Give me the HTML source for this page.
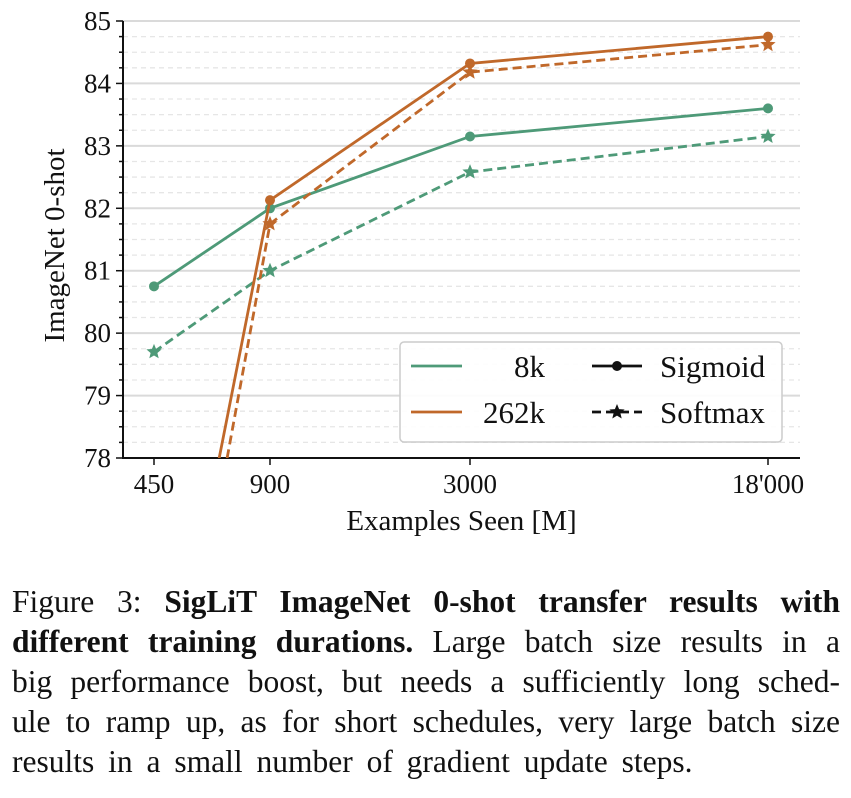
<!DOCTYPE html>
<html><head><meta charset="utf-8">
<style>
html,body{margin:0;background:#fff;width:851px;height:798px;overflow:hidden;font-family:"Liberation Serif",serif;}
svg text{font-family:"Liberation Serif",serif;fill:#111;}
#caption{position:absolute;left:12px;top:582px;width:828px;height:210px;overflow:hidden;font-size:31.5px;line-height:40px;color:#111;}
#caption div{text-align:justify;text-align-last:justify;white-space:nowrap;height:40px;}
#caption div.last{text-align-last:left;word-spacing:6px;}
</style></head>
<body>
<svg id="chart" width="851" height="560" style="position:absolute;left:0;top:0"></svg>
<div id="caption">
<div>Figure 3: <b>SigLiT ImageNet 0-shot transfer results with</b></div>
<div><b>different training durations.</b> Large batch size results in a</div>
<div>big performance boost, but needs a sufficiently long sched-</div>
<div>ule to ramp up, as for short schedules, very large batch size</div>
<div class="last">results in a small number of gradient update steps.</div>
</div>
<script>
const categories=["450","900","3000","18'000"];
const sig8k=[80.75,82.0,83.15,83.6];
const soft8k=[79.7,81.0,82.58,83.15];
const sig262k=[72.7,82.13,84.32,84.75];
const soft262k=[71.6,81.75,84.18,84.62];
const yTicks=[78,79,80,81,82,83,84,85];
const catPos=[154,270,470,768];
const L=123,R=800,T=21,B=458,ymin=78,ymax=85;
const NS="http://www.w3.org/2000/svg";
const svg=document.getElementById('chart');
function y(v){return B-(v-ymin)/(ymax-ymin)*(B-T);}
function x(i){return catPos[i];}
function mk(t,a,p){const e=document.createElementNS(NS,t);for(const k in a)e.setAttribute(k,a[k]);(p||svg).appendChild(e);return e;}
const defs=mk('defs',{});const cp=mk('clipPath',{id:'clip'},defs);mk('rect',{x:L,y:T-10,width:R-L+10,height:B-T+10},cp);
for(let v=ymin;v<=ymax+1e-9;v+=0.25){
 const major=Math.abs(v-Math.round(v))<1e-6;
 const g=mk('line',{x1:L,x2:R,y1:y(v),y2:y(v),stroke:major?'#dadada':'#e6e6e6','stroke-width':major?2:1.3,'stroke-dasharray':major?'':'5,4'});
 
 const t=mk('line',{x1:L-(major?7:4),x2:L,y1:y(v),y2:y(v),stroke:'#111','stroke-width':1.5});
 
}
yTicks.forEach(v=>{const t=mk('text',{x:L-12,y:y(v)+9,'text-anchor':'end','font-size':27});t.textContent=v;
 });
categories.forEach((c,i)=>{mk('line',{x1:x(i),x2:x(i),y1:B,y2:B+7,stroke:'#111','stroke-width':1.5});
 const t=mk('text',{x:x(i),y:B+35,'text-anchor':'middle','font-size':27});t.textContent=c;
 });
const sp=mk('path',{d:`M${L},${T} V${B} H${R}`,fill:'none',stroke:'#111','stroke-width':2});

let yt=mk('text',{x:0,y:0,'text-anchor':'middle','font-size':29,transform:`translate(64,${(T+B)/2+6}) rotate(-90)`});yt.textContent='ImageNet 0-shot';

let xt=mk('text',{x:(L+R)/2,y:B+72,'text-anchor':'middle','font-size':29});xt.textContent='Examples Seen [M]';

function star(cx,cy,r){let p=[];for(let k=0;k<10;k++){const a=-Math.PI/2+k*Math.PI/5,rr=k%2?r*0.45:r;p.push((cx+rr*Math.cos(a)).toFixed(1)+','+(cy+rr*Math.sin(a)).toFixed(1));}return p.join(' ');}
const G='#4e9a78',O='#c0682a';
function series(vals,col,dashed,name){
 const g=mk('g',{'clip-path':'url(#clip)'});
 
 mk('polyline',{points:vals.map((v,i)=>x(i)+','+y(v)).join(' '),fill:'none',stroke:col,'stroke-width':2.8,'stroke-dasharray':dashed?'9,5':''},g);
 vals.forEach((v,i)=>{let m;
  if(dashed)m=mk('polygon',{points:star(x(i),y(v),8),fill:col},g);
  else m=mk('circle',{cx:x(i),cy:y(v),r:5,fill:col},g);
  });
}
series(soft8k,G,true,'series-8k-softmax');
series(sig8k,G,false,'series-8k-sigmoid');
series(soft262k,O,true,'series-262k-softmax');
series(sig262k,O,false,'series-262k-sigmoid');
const lg=mk('g',{});
mk('rect',{x:400,y:342,width:382,height:100,rx:4,fill:'#fff','fill-opacity':0.9,stroke:'#ccc','stroke-width':1.5},lg);
function lt(tx,xx,yy,anchor){const t=mk('text',{x:xx,y:yy,'font-size':31,'text-anchor':anchor},lg);t.textContent=tx;}
mk('line',{x1:411,x2:462,y1:366,y2:366,stroke:G,'stroke-width':2.8},lg);lt('8k',545,377,'end');
mk('line',{x1:411,x2:462,y1:412,y2:412,stroke:O,'stroke-width':2.8},lg);lt('262k',545,423,'end');
mk('line',{x1:592,x2:642,y1:366,y2:366,stroke:'#111','stroke-width':2.8},lg);mk('circle',{cx:617,cy:366,r:5,fill:'#111'},lg);lt('Sigmoid',660,377,'start');
mk('line',{x1:592,x2:642,y1:412,y2:412,stroke:'#111','stroke-width':2.8,'stroke-dasharray':'9,5'},lg);mk('polygon',{points:star(617,412,8),fill:'#111'},lg);lt('Softmax',660,423,'start');
</script>
</body></html>
